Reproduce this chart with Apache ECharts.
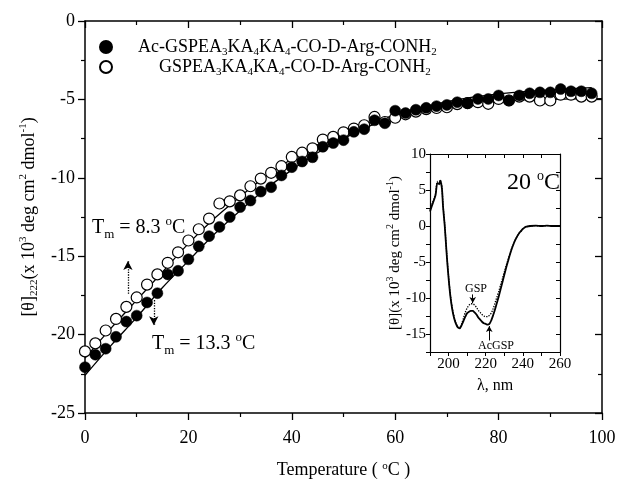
<!DOCTYPE html>
<html>
<head>
<meta charset="utf-8">
<script src="https://cdn.jsdelivr.net/npm/echarts@6/dist/echarts.min.js"></script>
<style>
html,body{margin:0;padding:0;background:#fff;}
#chart{width:624px;height:497px;}
</style>
</head>
<body>
<div id="chart"></div>
<script>
// ---- main panel data ----
const temps = [0,2,4,6,8,10,12,14,16,18,20,22,24,26,28,30,32,34,36,38,40,42,44,46,48,50,52,54,56,58,60,62,64,66,68,70,72,74,76,78,80,82,84,86,88,90,92,94,96,98];
const acGspValues = [-22.08,-21.28,-20.9,-20.14,-19.17,-18.79,-17.95,-17.36,-16.16,-15.93,-15.2,-14.37,-13.72,-13.13,-12.5,-11.87,-11.45,-10.88,-10.6,-9.85,-9.32,-8.96,-8.69,-8.02,-7.78,-7.6,-7.07,-6.9,-6.33,-6.52,-5.72,-5.87,-5.66,-5.54,-5.43,-5.35,-5.18,-5.24,-4.97,-4.97,-4.75,-5.07,-4.75,-4.61,-4.55,-4.55,-4.34,-4.48,-4.48,-4.61];
const gspValues = [-21.07,-20.56,-19.74,-19.0,-18.23,-17.63,-16.81,-16.16,-15.42,-14.75,-14.0,-13.28,-12.6,-11.64,-11.5,-11.12,-10.54,-10.05,-9.68,-9.26,-8.67,-8.4,-8.12,-7.56,-7.39,-7.1,-6.86,-6.65,-6.12,-6.44,-6.17,-5.95,-5.78,-5.62,-5.55,-5.5,-5.3,-5.24,-5.18,-5.28,-4.97,-5.07,-4.82,-4.82,-5.07,-5.07,-4.7,-4.7,-4.82,-4.82];
const fitTempsAc = [0,5,10,15,20,25,30,35,40,45,50,55,60,65,70,75,80,85,90,95,98];
const fitAc = [-22.6,-20.7,-18.9,-17.0,-15.3,-13.6,-12.1,-10.7,-9.5,-8.4,-7.5,-6.7,-6.05,-5.55,-5.15,-4.85,-4.65,-4.5,-4.4,-4.3,-4.25];
const fitTempsGsp = [0,5,10,15,20,25,30,35,40,45,50,55,60,65,70,75,80,85,90,95,100];
const fitGsp = [-21.5,-19.6,-17.8,-16.0,-14.2,-12.6,-11.2,-9.9,-8.8,-7.9,-7.1,-6.5,-6.0,-5.65,-5.4,-5.2,-5.1,-5.03,-5.0,-4.97,-4.95];
const tmArrowGsp = {t: 8.3, from: -17.4, to: -15.3};
const tmArrowAc = {t: 13.3, from: -17.8, to: -19.4};
const xTicksMain = [0,20,40,60,80,100];
const yTicksMain = [0,-5,-10,-15,-20,-25];
const legendNames = ['Ac-GSPEA3KA4KA4-CO-D-Arg-CONH2','GSPEA3KA4KA4-CO-D-Arg-CONH2'];

// ---- inset data ----
const lambdas = [190,191,192,193,194,195,195.5,196,196.5,197,198,199,200,201,202,203,204,205,206,207,208,209,210,211,212,213,214,215,216,217,218,219,220,221,222,223,224,225,226,227,228,229,230,231,232,233,234,235,236,237,238,239,240,241,242,244,247,250,253,256,260];
const insetGsp = [2.3,3.0,3.7,4.5,6.2,5.9,6.4,6.1,5.2,3.0,0.0,-3.8,-7.0,-9.6,-11.4,-12.6,-13.5,-14.0,-14.1,-13.6,-12.8,-12.0,-11.4,-11.0,-10.8,-10.8,-11.0,-11.3,-11.7,-12.0,-12.3,-12.5,-12.6,-12.6,-12.4,-12.1,-11.5,-10.7,-9.9,-9.1,-8.2,-7.3,-6.4,-5.5,-4.7,-3.9,-3.1,-2.5,-1.9,-1.4,-1.0,-0.7,-0.4,-0.2,-0.1,0.0,0.05,0.0,0.05,0.0,0.0];
const insetAc = [2.0,2.8,3.5,4.3,6.0,5.8,6.3,5.9,5.0,2.8,-0.2,-4.0,-7.2,-9.8,-11.6,-12.8,-13.6,-14.1,-14.2,-13.8,-13.2,-12.6,-12.1,-11.9,-11.8,-11.8,-12.0,-12.3,-12.7,-13.0,-13.3,-13.5,-13.6,-13.7,-13.6,-13.1,-12.4,-11.6,-10.7,-9.8,-8.8,-7.8,-6.8,-5.8,-4.9,-4.0,-3.2,-2.5,-1.9,-1.4,-1.0,-0.7,-0.4,-0.2,-0.1,0.0,0.05,0.0,0.05,0.0,0.0];
const gspArrow = {l: 213, from: -9.5, to: -10.7};
const acArrow = {l: 221.9, from: -15.9, to: -13.9};

const zip = (a, b) => a.map((v, i) => [v, b[i]]);
const FONT = 'Liberation Serif';

const richSub = {
  n: {fontSize: 18, fontFamily: FONT, lineHeight: 22, color: '#000'},
  s: {fontSize: 11, fontFamily: FONT, lineHeight: 11, verticalAlign: 'bottom', color: '#000'},
  g1: {width: 21, fontSize: 18, lineHeight: 22},
  g2: {width: 42, fontSize: 18, lineHeight: 22}
};
function legendFmt(name) {
  const pre = name.startsWith('Ac') ? '{g1|\u00a0}' : '{g2|\u00a0}';
  const parts = name.replace(/A(\d)/g, 'A}{s|$1}{n|').replace(/H(\d)$/, 'H}{s|$1}{n|');
  return pre + '{n|' + parts + '}';
}

const axisLineStyle = {color: '#000', width: 1.5};
function mainX(pos, inside) {
  return {
    type: 'value', gridIndex: 0, position: pos, min: 0, max: 100, interval: 20,
    axisLine: {show: true, lineStyle: axisLineStyle, onZero: false},
    axisTick: {show: true, inside: inside, length: 7, lineStyle: {color: '#000', width: 1.3}},
    minorTick: {show: true, splitNumber: 2, length: 4, lineStyle: {color: '#000', width: 1.2}},
    splitLine: {show: false}, minorSplitLine: {show: false},
    axisLabel: {show: !inside, margin: 16, fontSize: 18, fontFamily: FONT, color: '#000',
      formatter: v => xTicksMain.includes(v) ? String(v) : ''}
  };
}
function mainY(pos, inside) {
  return {
    type: 'value', gridIndex: 0, position: pos, min: -25, max: 0, interval: 5,
    axisLine: {show: true, lineStyle: axisLineStyle, onZero: false},
    axisTick: {show: true, inside: inside, length: 7, lineStyle: {color: '#000', width: 1.3}},
    minorTick: {show: true, splitNumber: 2, length: 4, lineStyle: {color: '#000', width: 1.2}},
    splitLine: {show: false}, minorSplitLine: {show: false},
    axisLabel: {show: !inside, margin: 10, fontSize: 18, fontFamily: FONT, color: '#000',
      formatter: v => yTicksMain.includes(v) ? String(v) : ''}
  };
}
const insetLine = {color: '#000', width: 1.2};
function insetX(pos, inside) {
  return {
    type: 'value', gridIndex: 1, position: pos, min: 190, max: 260, interval: 10,
    axisLine: {show: true, lineStyle: insetLine, onZero: false},
    axisTick: {show: true, inside: inside, length: 4, lineStyle: {color: '#000', width: 1}},
    splitLine: {show: false},
    axisLabel: {show: !inside, margin: 5, fontSize: 15, fontFamily: FONT, color: '#000',
      formatter: v => (v % 20 === 0) ? String(v) : ''}
  };
}
function insetY(pos, inside) {
  return {
    type: 'value', gridIndex: 1, position: pos, min: -17.5, max: 10, interval: 2.5,
    axisLine: {show: true, lineStyle: insetLine, onZero: false},
    axisTick: {show: true, inside: inside, length: 4, lineStyle: {color: '#000', width: 1}},
    splitLine: {show: false},
    axisLabel: {show: !inside, margin: 4, fontSize: 15, fontFamily: FONT, color: '#000',
      formatter: v => (v % 5 === 0) ? String(v) : ''}
  };
}

const xs = [mainX('bottom', false), mainX('top', true), insetX('bottom', false), insetX('top', true)];
xs[0].name = 'Temperature ( {u|o}C )';
xs[0].nameLocation = 'middle';
xs[0].nameGap = 48;
xs[0].nameTextStyle = {fontSize: 18, fontFamily: FONT, color: '#000',
  rich: {u: {fontSize: 11, fontFamily: FONT, verticalAlign: 'top', lineHeight: 11, color: '#000'}}};
xs[2].name = 'λ, nm';
xs[2].nameLocation = 'middle';
xs[2].nameGap = 26;
xs[2].nameTextStyle = {fontSize: 16, fontFamily: FONT, color: '#000'};

const ys = [mainY('left', false), mainY('right', true), insetY('left', false), insetY('right', true)];
ys[0].name = '{n|[θ]}{s|222}{n|(x 10}{u|3}{n| deg cm}{u|2}{n| dmol}{u|-1}{n|)}';
ys[0].nameLocation = 'middle';
ys[0].nameRotate = 90;
ys[0].nameGap = 42;
ys[0].nameTextStyle = {fontSize: 18, fontFamily: FONT, color: '#000', rich: {
  n: {fontSize: 18, fontFamily: FONT, lineHeight: 22, color: '#000'},
  s: {fontSize: 11, fontFamily: FONT, lineHeight: 11, verticalAlign: 'bottom', color: '#000'},
  u: {fontSize: 11, fontFamily: FONT, lineHeight: 11, verticalAlign: 'top', color: '#000'}
}};
ys[2].name = '{n|[θ](x 10}{u|3}{n| deg cm}{u|2}{n| dmol}{u|-1}{n|)}';
ys[2].nameLocation = 'middle';
ys[2].nameRotate = 90;
ys[2].nameGap = 24;
ys[2].nameTextStyle = {fontSize: 15, fontFamily: FONT, color: '#000', rich: {
  n: {fontSize: 15, fontFamily: FONT, lineHeight: 18, color: '#000'},
  u: {fontSize: 10, fontFamily: FONT, lineHeight: 10, verticalAlign: 'top', color: '#000'}
}};

const tmRich = {
  n: {fontSize: 20, fontFamily: FONT, lineHeight: 26, fill: '#000'},
  s: {fontSize: 13, fontFamily: FONT, lineHeight: 13, verticalAlign: 'bottom', fill: '#000'},
  u: {fontSize: 13, fontFamily: FONT, lineHeight: 13, verticalAlign: 'top', fill: '#000'}
};

const chart = echarts.init(document.getElementById('chart'), null, {renderer: 'canvas'});
chart.setOption({
  backgroundColor: '#fff',
  animation: false,
  grid: [
    {left: 85, top: 21, width: 517, height: 392, containLabel: false, outerBoundsMode: 'none'},
    {left: 430, top: 154, width: 130, height: 198, containLabel: false, outerBoundsMode: 'none'}
  ],
  xAxis: xs,
  yAxis: ys,
  legend: {
    orient: 'vertical', left: 94, top: 33, itemWidth: 12, itemHeight: 12, itemGap: 0,
    data: [legendNames[0], legendNames[1]],
    formatter: legendFmt,
    textStyle: {fontSize: 18, fontFamily: FONT, color: '#000', rich: richSub},
    selectedMode: false
  },
  series: [
    {
      name: legendNames[1], type: 'scatter', xAxisIndex: 0, yAxisIndex: 0, symbol: 'circle', symbolSize: 11,
      itemStyle: {color: '#fff', borderColor: '#000', borderWidth: 1.2, opacity: 1},
      data: zip(temps, gspValues), z: 3
    },
    {
      name: legendNames[0], type: 'scatter', xAxisIndex: 0, yAxisIndex: 0, symbol: 'circle', symbolSize: 11,
      itemStyle: {color: '#000', borderColor: '#000', borderWidth: 0.5, opacity: 1},
      data: zip(temps, acGspValues), z: 4
    },
    {
      name: 'fitAc', type: 'line', xAxisIndex: 0, yAxisIndex: 0, smooth: 0.4, showSymbol: false,
      lineStyle: {color: '#000', width: 1.3}, data: zip(fitTempsAc, fitAc), z: 2,
      markLine: {
        silent: true, symbol: ['none', 'arrow'], symbolSize: [7, 9],
        label: {show: false},
        lineStyle: {color: '#000', width: 1.3, type: 'dotted'},
        data: [
          [{coord: [tmArrowGsp.t, tmArrowGsp.from]}, {coord: [tmArrowGsp.t, tmArrowGsp.to]}],
          [{coord: [tmArrowAc.t, tmArrowAc.from]}, {coord: [tmArrowAc.t, tmArrowAc.to]}]
        ]
      }
    },
    {
      name: 'fitGsp', type: 'line', xAxisIndex: 0, yAxisIndex: 0, smooth: 0.4, showSymbol: false,
      lineStyle: {color: '#000', width: 1.3}, data: zip(fitTempsGsp, fitGsp), z: 2
    },
    {
      name: 'insetGsp', type: 'line', xAxisIndex: 2, yAxisIndex: 2, smooth: 0.3, showSymbol: false,
      lineStyle: {color: '#000', width: 1.3, type: 'dotted'}, data: zip(lambdas, insetGsp), z: 5,
      markLine: {
        silent: true, symbol: ['none', 'arrow'], symbolSize: [5, 6],
        label: {show: false},
        lineStyle: {color: '#000', width: 1, type: 'solid'},
        data: [
          [{coord: [gspArrow.l, gspArrow.from]}, {coord: [gspArrow.l, gspArrow.to]}],
          [{coord: [acArrow.l, acArrow.from]}, {coord: [acArrow.l, acArrow.to]}]
        ]
      }
    },
    {
      name: 'insetAc', type: 'line', xAxisIndex: 2, yAxisIndex: 2, smooth: 0.3, showSymbol: false,
      lineStyle: {color: '#000', width: 1.8}, data: zip(lambdas, insetAc), z: 5
    }
  ],
  graphic: [
    {type: 'text', left: 92, top: 215, z: 10, style: {text: '{n|T}{s|m}{n| = 8.3 }{u|o}{n|C}', fill: '#000', rich: tmRich}},
    {type: 'text', left: 152, top: 331, z: 10, style: {text: '{n|T}{s|m}{n| = 13.3 }{u|o}{n|C}', fill: '#000', rich: tmRich}},
    {type: 'text', left: 507, top: 169, z: 10, style: {
      text: '{n|20 }{u|o}{n|C}', fill: '#000',
      rich: {
        n: {fontSize: 24, fontFamily: FONT, lineHeight: 28, fill: '#000'},
        u: {fontSize: 14, fontFamily: FONT, lineHeight: 14, verticalAlign: 'top', fill: '#000'}
      }}},
    {type: 'text', left: 465, top: 283, z: 10, style: {text: 'GSP', fill: '#000', fontSize: 12, fontFamily: FONT}},
    {type: 'text', left: 478, top: 340, z: 10, style: {text: 'AcGSP', fill: '#000', fontSize: 12, fontFamily: FONT}}
  ]
});
</script>
</body>
</html>
